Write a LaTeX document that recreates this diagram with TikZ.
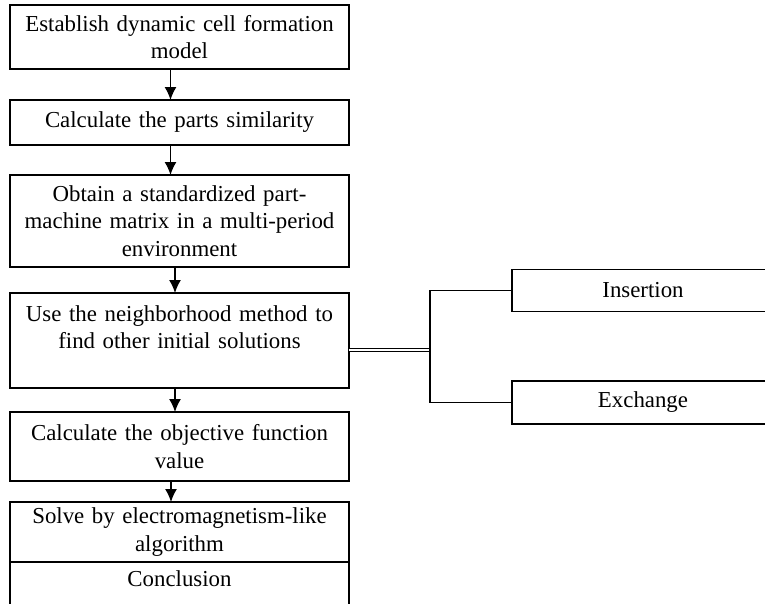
\documentclass[tikz,border=0pt]{standalone}
\usepackage{fontspec}
\setmainfont{Liberation Serif}
\usetikzlibrary{arrows.meta, positioning}

\begin{document}
\begin{tikzpicture}[node distance=0.6cm, auto,
  block/.style={rectangle, draw=black, thick, outer sep=0pt, text width=6.38cm, align=center, inner xsep=0.2cm, inner ysep=0.1cm, font=\fontsize{13}{15.5}\selectfont},
  side/.style={rectangle, draw=black, thick, outer sep=0pt, minimum width=5.24cm, font=\fontsize{13}{15.5}\selectfont},
  arrow/.style={draw=black, -{Latex[length=2.6mm, width=2.4mm]}, thick}]

  \useasboundingbox (0,0) rectangle (15.3,-12.06);
  \clip (0,0) rectangle (15.3,-12.06);

  \node [block, anchor=north west, minimum height=1.28cm] (model) at (0.2,-0.1) {Establish dynamic cell formation\\model};
  \node [block, below=0.62cm of model, minimum height=0.9cm] (similarity) {Calculate the parts similarity};
  \node [block, below=0.6cm of similarity, minimum height=1.84cm] (matrix) {Obtain a standardized part-\\machine matrix in a multi-period\\environment};
  \node [block, below=0.52cm of matrix, minimum height=1.9cm] (neighbor) {Use the neighborhood method to\\find other initial solutions\\ \mbox{}};
  \node [block, below=0.48cm of neighbor, minimum height=1.38cm] (objective) {Calculate the objective function\\value};
  \node [block, below=0.42cm of objective, minimum height=1.2cm] (solve) {Solve by electromagnetism-like\\algorithm};
  \node [block, below=0cm of solve, inner ysep=0.18cm] (conclusion) {Conclusion\\ \mbox{}};

  \node [side, right=3.26cm of neighbor, yshift=1.0cm, minimum height=0.84cm] (insertion) {Insertion};
  \node [side, right=3.26cm of neighbor, yshift=-1.24cm, minimum height=0.86cm] (exchange) {Exchange};

  \draw [arrow] ([xshift=-0.18cm]model.south) -- ([xshift=-0.18cm]similarity.north);
  \draw [arrow] ([xshift=-0.18cm]similarity.south) -- ([xshift=-0.18cm]matrix.north);
  \draw [arrow] ([xshift=-0.09cm]matrix.south) -- ([xshift=-0.09cm]neighbor.north);
  \draw [arrow] ([xshift=-0.09cm]neighbor.south) -- ([xshift=-0.09cm]objective.north);
  \draw [arrow] ([xshift=-0.17cm]objective.south) -- ([xshift=-0.17cm]solve.north);

  \coordinate (split) at ([xshift=1.62cm, yshift=-0.19cm]neighbor.east);
  \draw [thick, double, double distance=1.2pt] ([yshift=-0.19cm]neighbor.east) -- (split);
  \draw [thick] (insertion.west) -| (split) |- (exchange.west);
\end{tikzpicture}
\end{document}
